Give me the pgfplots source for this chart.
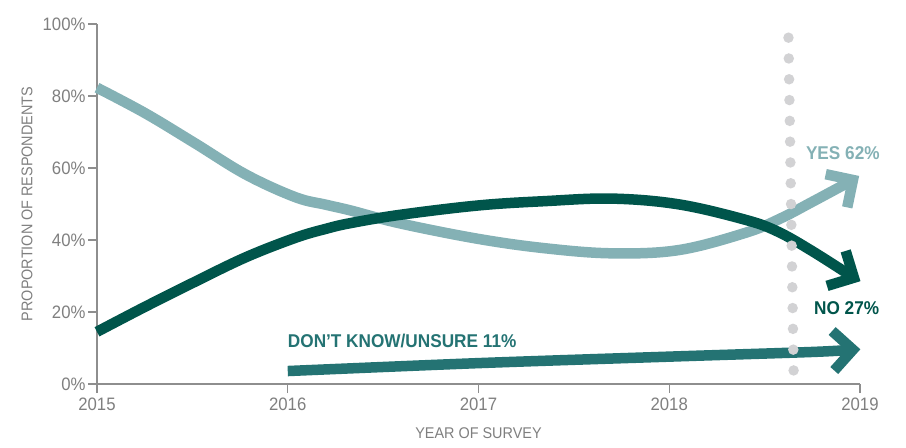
\documentclass[border=0pt]{standalone}
\usepackage{fontspec}
\setmainfont[FakeStretch=0.93]{Liberation Sans}
\usepackage{pgfplots}
\pgfplotsset{compat=1.18}
\definecolor{yescol}{HTML}{84B1B5}
\definecolor{nocol}{HTML}{00554B}
\definecolor{dkcol}{HTML}{247373}
\definecolor{dotcol}{HTML}{D2D2D4}
\definecolor{txtgray}{HTML}{7F7F7F}
\definecolor{axgray}{HTML}{8E8E8E}
\begin{document}
\begin{tikzpicture}
\useasboundingbox (-97bp,-64bp) rectangle (809bp,384bp);
\begin{axis}[
  scale only axis,
  width=763bp, height=360bp,
  xmin=2015, xmax=2019, ymin=0, ymax=100,
  clip=false,
  axis x line*=bottom, axis y line*=left,
  axis line style={draw=axgray, line width=1.3bp},
  tick style={draw=axgray, line width=1.3bp},
  tick align=outside,
  major tick length=9bp,
  xtick={2015,2016,2017,2018,2019},
  xticklabels={2015,2016,2017,2018,2019},
  ytick={0,20,40,60,80,100},
  yticklabels={0\%,20\%,40\%,60\%,80\%,100\%},
  tick label style={font=\fontsize{18bp}{20bp}\selectfont, text=txtgray},
  xticklabel style={yshift=-1bp},
  yticklabel style={xshift=1bp},
  xlabel={YEAR OF SURVEY},
  ylabel={PROPORTION OF RESPONDENTS},
  every axis x label/.style={at={(axis description cs:0.5,0)}, yshift=-49bp, anchor=center, font=\fontsize{15.5bp}{18bp}\selectfont, text=txtgray},
  every axis y label/.style={at={(axis description cs:0,0.5)}, xshift=-70bp, rotate=90, anchor=center, font=\fontsize{15.5bp}{18bp}\selectfont, text=txtgray},
  arrowhead/.style={line width=10.5bp, line join=miter, line cap=butt, miter limit=10},
]
% YES
\addplot[yescol, line width=10.5bp, smooth, tension=0.6] coordinates {
(2015.00,82.3) (2015.25,75.3) (2015.51,67.0) (2015.78,58.2) (2016.04,51.9) (2016.20,49.8) (2016.33,48.2) (2016.59,44.6)
(2017.00,40.3) (2017.35,37.7) (2017.70,36.3) (2018.05,37.2) (2018.40,42.0) (2018.58,45.9) (2018.75,50.6) (2018.963,56.67)};
\addplot[yescol, arrowhead] coordinates {(2018.820,58.28) (2018.963,56.67) (2018.933,49.06)};
% NO
\addplot[nocol, line width=10.5bp, smooth, tension=0.6] coordinates {
(2015.00,14.5) (2015.25,21.4) (2015.51,28.3) (2015.78,35.2) (2016.04,40.6) (2016.20,43.1) (2016.33,44.7) (2016.59,47.0)
(2017.00,49.6) (2017.35,50.8) (2017.70,51.5) (2018.05,49.9) (2018.40,45.6) (2018.57,42.3) (2018.75,36.9) (2018.968,29.53)};
\addplot[nocol, arrowhead] coordinates {(2018.925,36.97) (2018.968,29.53) (2018.827,27.25)};
% DON'T KNOW
\addplot[dkcol, line width=10.5bp, smooth, tension=0.5] coordinates {
(2016.00,3.6) (2017.00,5.8) (2018.00,7.6) (2018.75,8.9) (2018.963,9.53)};
\addplot[dkcol, arrowhead] coordinates {(2018.854,14.72) (2018.963,9.53) (2018.865,3.75)};
% dotted marker line
\addplot[dotcol, line width=10.5bp, line cap=round, dash pattern=on 0bp off 20.8bp] coordinates {(2018.625,96.2) (2018.652,3.7)};
\node[text=yescol, font=\fontsize{18.5bp}{20bp}\selectfont\bfseries] at (axis cs:2018.91,64.2) {YES 62\%};
\node[text=nocol, font=\fontsize{18.5bp}{20bp}\selectfont\bfseries] at (axis cs:2018.93,21.1) {NO 27\%};
\node[text=dkcol, font=\fontsize{18.5bp}{20bp}\selectfont\bfseries, anchor=west, inner sep=0pt] at (axis cs:2016.0,11.9) {DON’T KNOW/UNSURE 11\%};
\end{axis}
\end{tikzpicture}
\end{document}
